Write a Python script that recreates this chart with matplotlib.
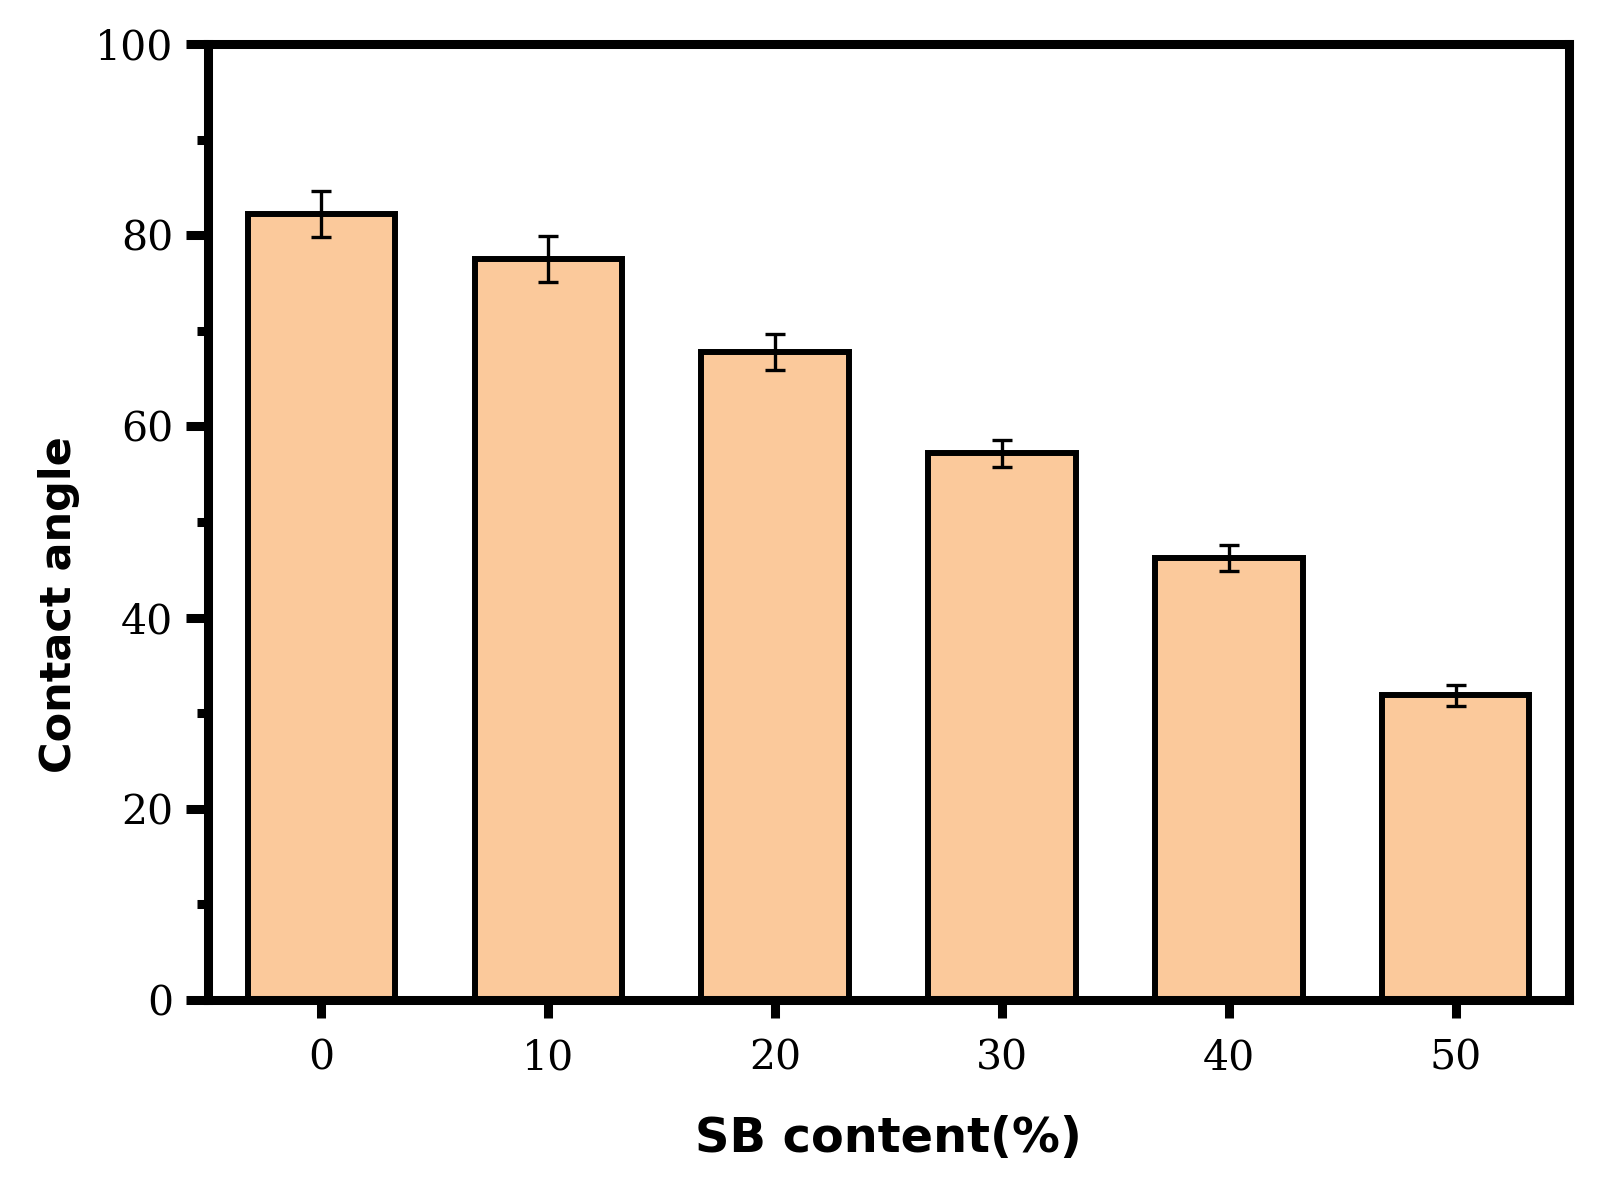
import numpy as np
import matplotlib.pyplot as plt
from matplotlib.ticker import MultipleLocator

sb_content = [0, 10, 20, 30, 40, 50]
contact_angle = [82.2, 77.5, 67.8, 57.2, 46.2, 31.9]
angle_err = [2.4, 2.4, 1.9, 1.4, 1.35, 1.1]

BAR_COLOR = "#FBC99B"

fig = plt.figure(figsize=(16.06, 11.83), dpi=100)
ax = fig.add_axes([0.1295, 0.1547, 0.8475, 0.8081])

ax.bar(sb_content, contact_angle, width=6.5, color=BAR_COLOR,
       edgecolor="black", linewidth=4.3, zorder=2)
ax.errorbar(sb_content, contact_angle, yerr=angle_err, fmt="none",
            ecolor="black", elinewidth=2.4, capsize=7.2, capthick=2.4, zorder=3)

ax.set_xlim(-5, 55)
ax.set_ylim(0, 100)
ax.set_xticks(sb_content)
ax.yaxis.set_major_locator(MultipleLocator(20))
ax.yaxis.set_minor_locator(MultipleLocator(10))

for s in ax.spines.values():
    s.set_linewidth(6.5)

ax.tick_params(axis="y", which="major", direction="out", length=16, width=6.5, pad=9)
ax.tick_params(axis="y", which="minor", direction="out", length=8, width=6.5)
ax.tick_params(axis="x", which="major", direction="out", length=13, width=6.5, pad=15)
ax.tick_params(axis="x", which="minor", bottom=False)

for lbl in ax.get_xticklabels() + ax.get_yticklabels():
    lbl.set_fontfamily("DejaVu Serif")
    lbl.set_fontsize(29.5)

ax.set_xlabel("SB content(%)", fontsize=34.5, fontweight="bold", family="DejaVu Sans")
ax.set_ylabel("Contact angle", fontsize=31, fontweight="bold", family="DejaVu Sans")
ax.xaxis.set_label_coords(0.5, -0.12)
ax.yaxis.set_label_coords(-0.094, 0.414)

fig.savefig("out.png", dpi=100)
